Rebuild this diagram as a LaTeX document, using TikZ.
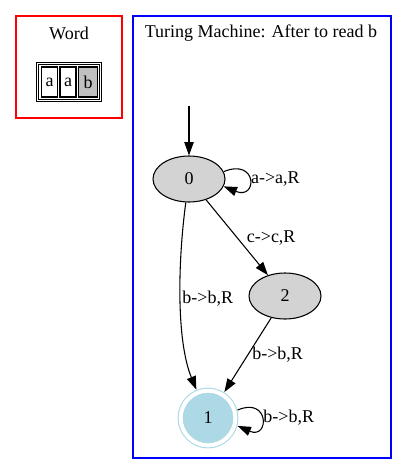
\documentclass[tikz,border=0pt]{standalone}
\usepackage{fontspec}
\setmainfont{Liberation Serif}
\usetikzlibrary{arrows.meta,shapes.geometric}
\definecolor{gvgray}{HTML}{D3D3D3}
\definecolor{gvblue}{HTML}{ADD8E6}
\definecolor{gvgrey}{HTML}{C0C0C0}
\begin{document}
\begin{tikzpicture}[x=.75pt,y=-.75pt,line width=.8pt,font=\fontsize{13.5}{16}\selectfont,
    >={Triangle[length=10pt,width=7pt]},
    state/.style={ellipse,draw,fill=gvgray,minimum width=54pt,minimum height=34.5pt,inner sep=0pt},
    final/.style={circle,draw=gvblue,fill=gvblue,double=white,double distance=3pt,
      minimum size=41pt,inner sep=0pt,outer sep=2.5pt},
    cell/.style={draw,inner sep=0pt,minimum height=22.5pt},
    lbl/.style={right,inner sep=1pt}]
        \useasboundingbox (0,0) rectangle (407,475);
        % the word
        \draw[red] (16,16) rectangle (122,118);
        \node (wtitle) at (69,33) {Word};
        \draw (36.5,62.5) rectangle (101.5,101.5);
        \draw (38.5,64.5) rectangle (99.5,99.5);
        \node[cell,minimum width=12pt] (w1) at (49.5,82) {a};
        \node[cell,minimum width=12pt] (w2) at (68,82) {a};
        \node[cell,minimum width=14.25pt,fill=gvgrey] (w3) at (88,82) {b};
        % the machine
        \draw[blue] (133,16) rectangle (391,458);
        \node (mtitle) at (261,33) {Turing Machine: After to read b};
        \coordinate (start) at (189,106);
        \node[state] (n0) at (189,179) {0};
        \node[state] (n2) at (285,296) {2};
        \node[final] (n1) at (208,418) {1};
        \draw[->] (start) -- (n0);
        \draw[->] (n0.12) .. controls +(34,-14) and +(34,14) .. (n0.-12) node[lbl,pos=.5] {a->a,R};
        \draw[->] (n0) -- (n2) node[lbl,pos=.5,xshift=6pt] {c->c,R};
        \draw[->] (n0) .. controls (178,260) and (176,340) .. (n1) node[lbl,pos=.5] {b->b,R};
        \draw[->] (n2) -- (n1) node[lbl,pos=.5,xshift=2pt] {b->b,R};
        \draw[->] (n1.15) .. controls +(32,-14) and +(32,14) .. (n1.-15) node[lbl,pos=.5] {b->b,R};
\end{tikzpicture}
\end{document}
